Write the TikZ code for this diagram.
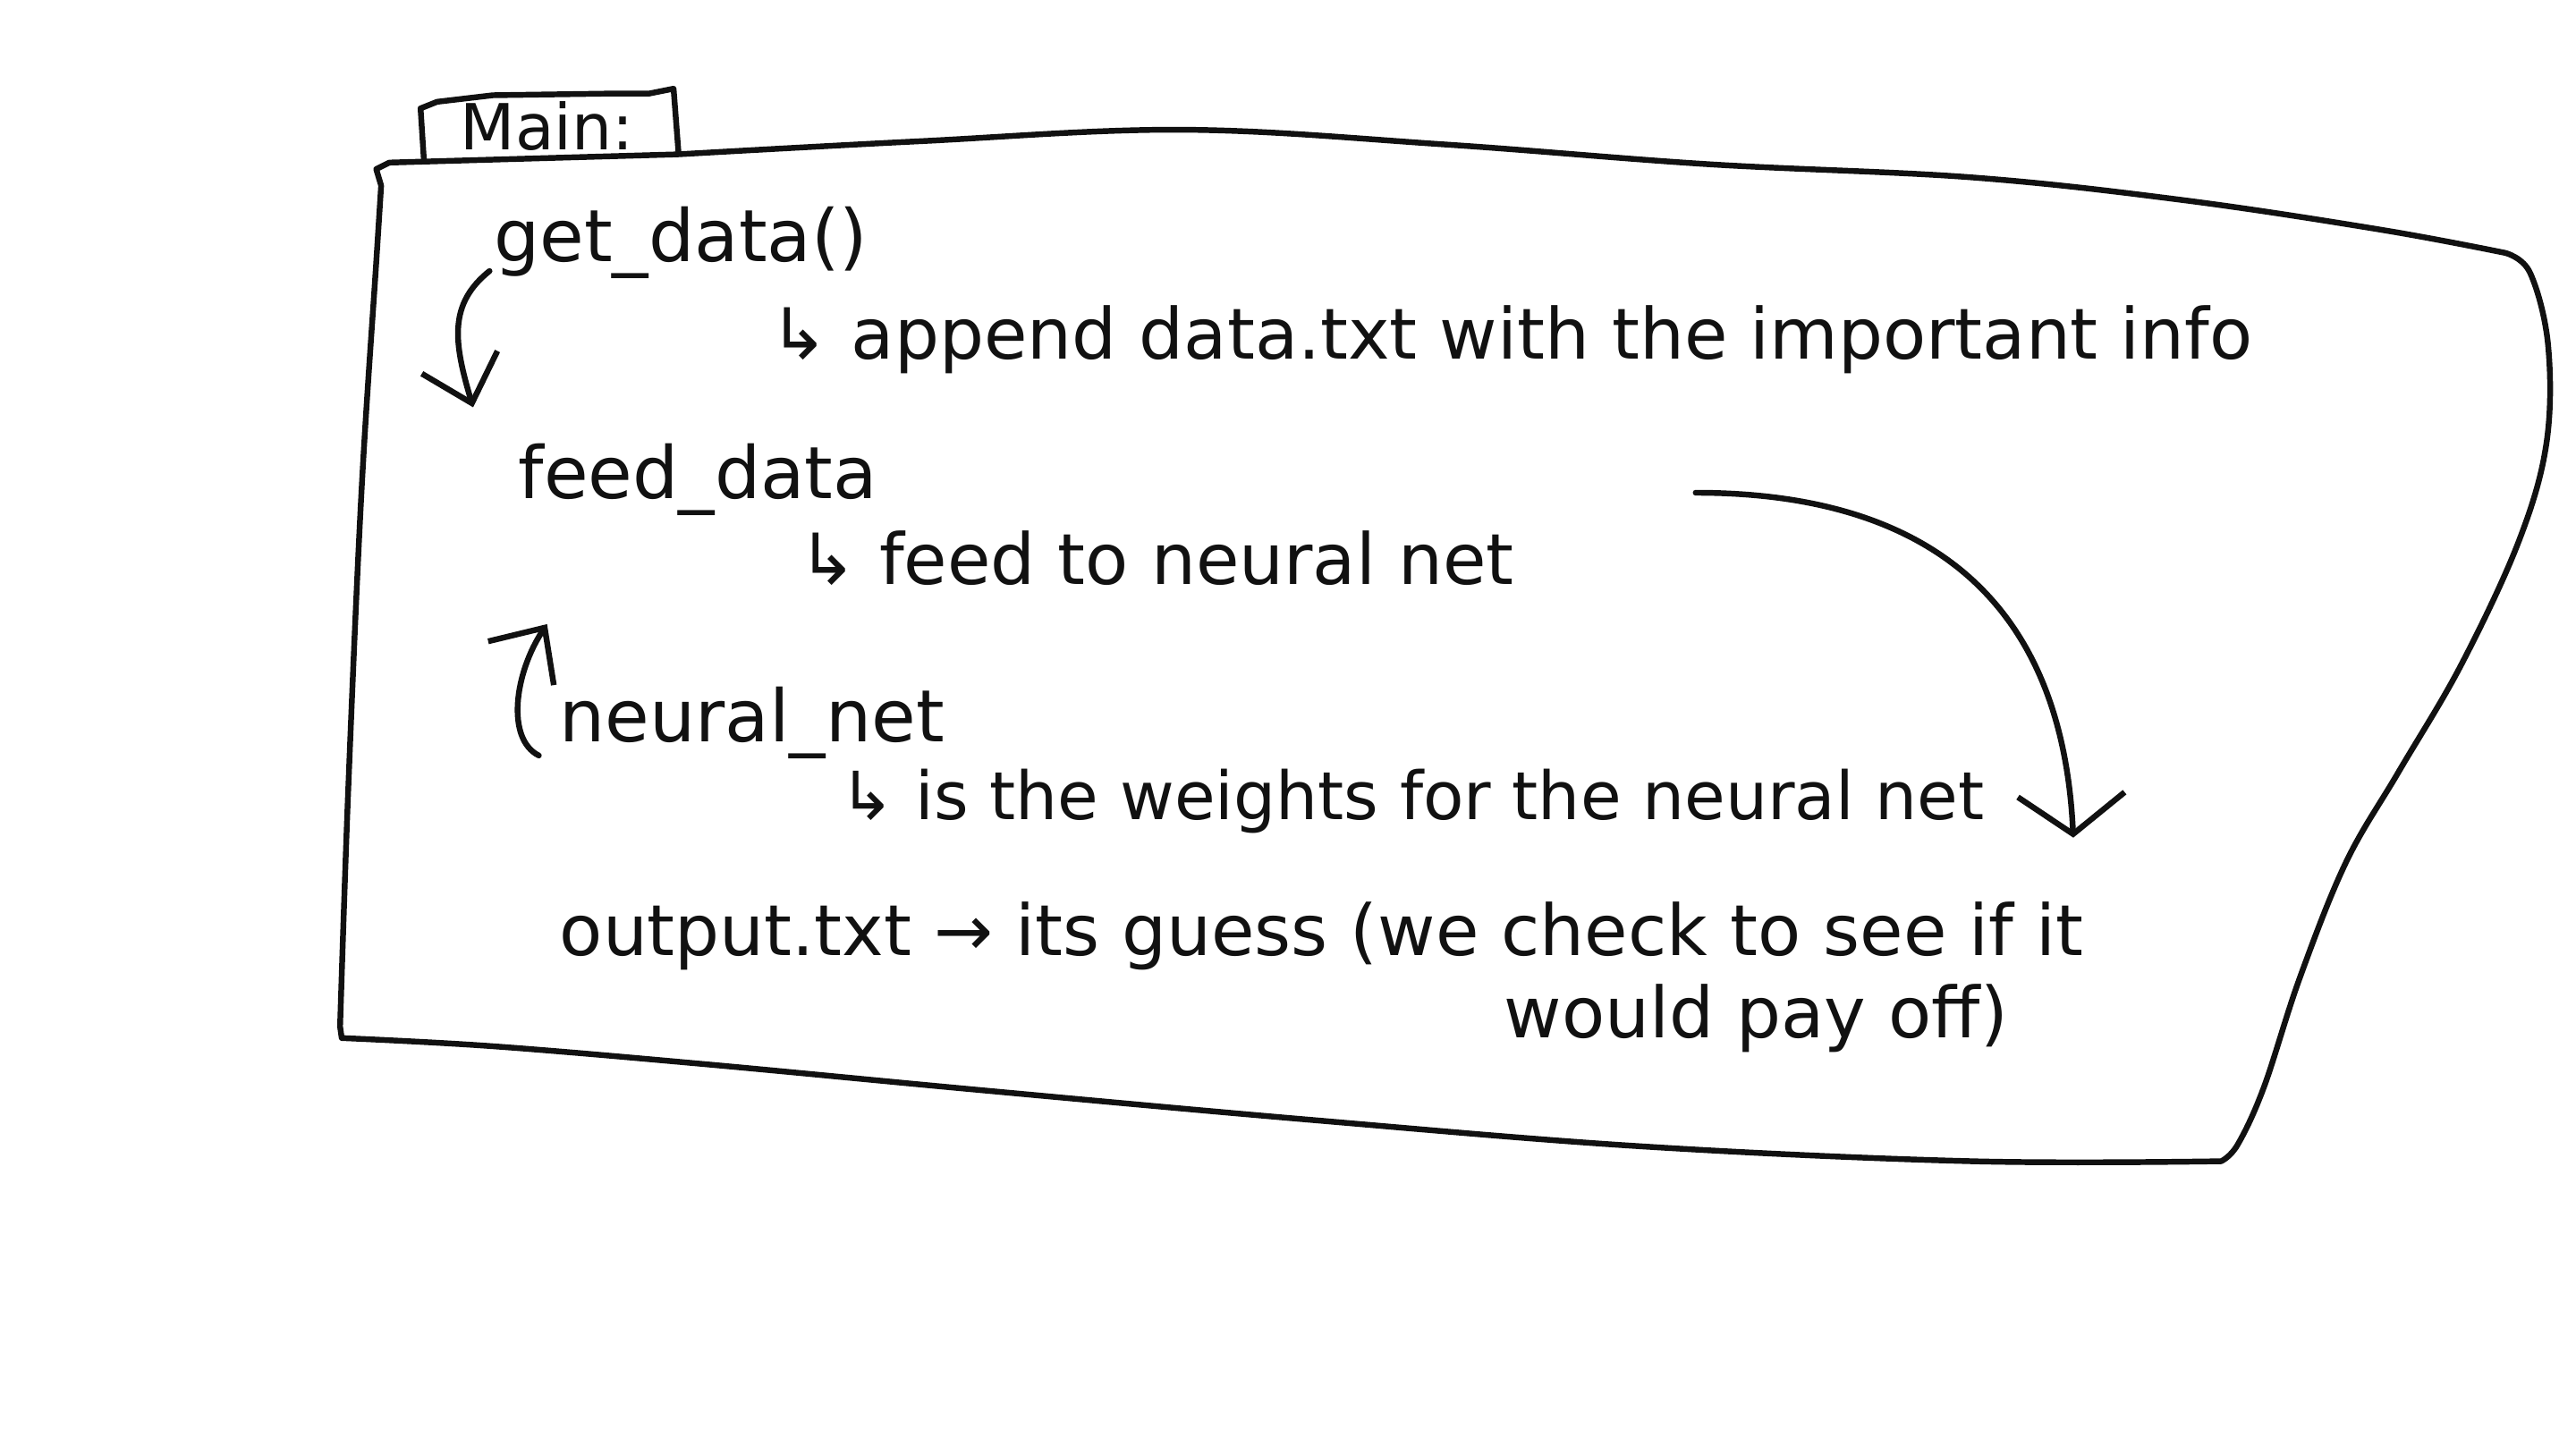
\documentclass[tikz,border=0pt]{standalone}
\usepackage{fontspec}
\setmainfont{DejaVu Sans}
\usepackage{xcolor}
\usetikzlibrary{arrows.meta,positioning}
\definecolor{skink}{HTML}{111111}

\begin{document}
\begin{tikzpicture}[
  x=0.01cm, y=-0.01cm,
  font=\fontsize{11.5}{14}\selectfont,
  pen/.style={draw=skink, line width=1pt, line cap=round, line join=round},
  func/.style={anchor=west, inner sep=0pt, text=skink, font=\fontsize{12.5}{15}\selectfont},
  note/.style={anchor=west, inner sep=0pt, text=skink},
  widenote/.style={note, font=\fontsize{12.2}{14}\selectfont},
  hand/.style={pen, -{Straight Barb[length=2.6mm,width=4.8mm]}},
  ]
  \useasboundingbox (0,0) rectangle (1568,880);

  % folder tab and outline
  \draw[pen] (258,97) -- (256,66) -- (266,62) -- (300,58) -- (370,57) -- (395,57) -- (410,54) -- (413,93);
  \draw[pen] (232,113) -- (229,103) -- (237,99) -- (412,94)
    -- plot[smooth, tension=0.6] coordinates {(412,94) (560,86) (720,79) (880,88) (1040,100) (1200,108) (1330,122) (1450,140) (1525,154)}
    -- plot[smooth, tension=0.6] coordinates {(1525,154) (1540,166) (1551,210) (1550,270) (1533,330) (1498,405) (1460,470) (1428,525) (1400,595) (1378,662) (1362,697) (1352,707)}
    -- plot[smooth, tension=0.6] coordinates {(1352,707) (1200,707) (1000,698) (800,682) (600,664) (430,648) (300,637) (208,632)}
    -- plot[smooth, tension=0.6] coordinates {(207,625) (212,480) (220,300) (229,160) (232,113)};

  \node[text=skink, font=\fontsize{11}{13}\selectfont] (main) at (333,77) {Main:};

  % functions and what they do
  \node[func] (getdata) at (300,148) {get\_data()};
  \node[widenote] (getsub) at (468,207) {↳ append data.txt with the important info};
  \node[func] (feeddata) at (315,292) {feed\_data};
  \node[widenote] (feedsub) at (485,340) {↳ feed to neural net};
  \node[func] (neuralnet) at (340,440) {neural\_net};
  \node[note] (weightsub) at (510,488) {↳ is the weights for the neural net};
  \node[widenote] (output) at (340,570) {output.txt → its guess (we check to see if it};
  \node[widenote] (outputtwo) at (915,620) {would pay off)};

  \draw[hand] ([shift={(-2,17)}]getdata.west) .. controls +(-25,20) and +(-12,-40) .. ([shift={(-27,-44)}]feeddata.west);
  \draw[hand] ([shift={(-12,20)}]neuralnet.west) .. controls +(-20,-10) and +(-20,30) .. ([shift={(18,88)}]feeddata.west);

  % loop back from the net down to the output
  \coordinate (loopend) at (1262,510);
  \draw[hand, -{Straight Barb[length=2.4mm,width=6.5mm]}] ([shift={(110,-40)}]feedsub.east) .. controls +(135,0) and +(-7,-150) .. (loopend);
\end{tikzpicture}
\end{document}
